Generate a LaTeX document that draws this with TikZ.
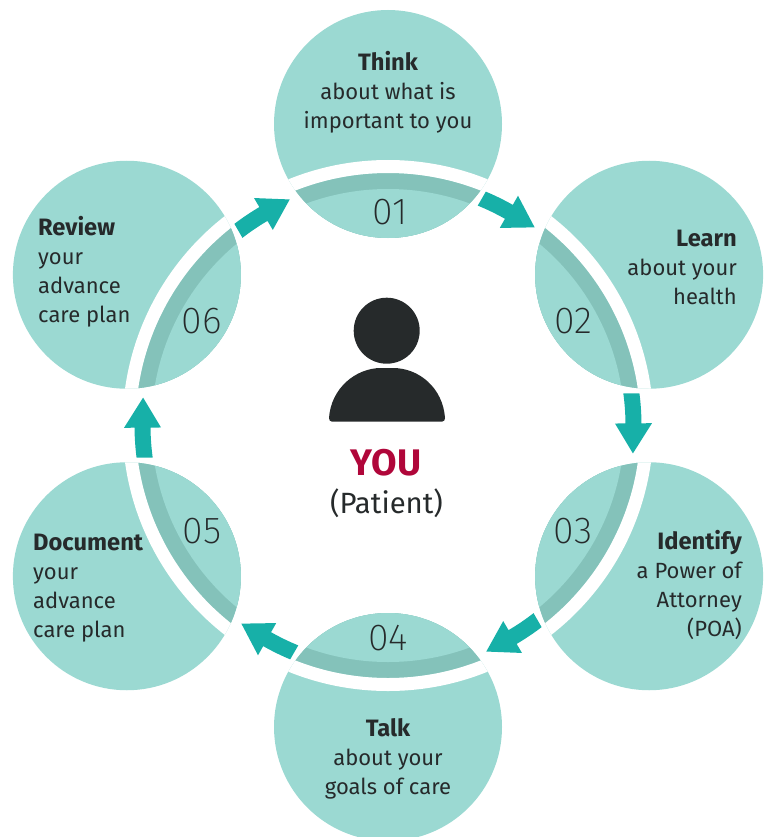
\documentclass[tikz,border=0pt]{standalone}
\usepackage{fontspec}
\usetikzlibrary{calc}
\setmainfont{Fira Sans}
\newfontfamily\numfont{Fira Sans ExtraLight}
\definecolor{lens}{HTML}{9BD9D2}
\definecolor{band}{HTML}{84C2BA}
\definecolor{arrowc}{HTML}{17B0A8}
\definecolor{ink}{HTML}{262A2B}
\definecolor{youc}{HTML}{B0063A}
\newcommand{\bt}[1]{{\bfseries\fontsize{23.7}{29}\selectfont #1}}
\tikzset{
  body/.style={font=\fontsize{22}{29}\selectfont, text=ink, inner sep=0pt},
  num/.style={font=\numfont\fontsize{37.5}{38}\selectfont, text=ink, inner sep=0pt},
}
\begin{document}
\begin{tikzpicture}[x=1pt,y=-1pt]
\useasboundingbox (0,0) rectangle (770,837);
\coordinate (c) at (388,425.5);
\foreach \a in {90,30,-30,-90,-150,150}{
  \begin{scope}
    \clip (0,0) rectangle (770,837);
    \begin{scope}
      \clip ($(c)+(\a:301.5 and -301.5)$) circle (114);
      \fill[lens] (0,0) rectangle (770,837);
      \fill[band] (c) circle (252.5);
      \fill[lens] (c) circle (236.5);
      \fill[white, even odd rule] (c) circle (265.5) (c) circle (252.5);
    \end{scope}
  \end{scope}
}
\foreach \a in {0,60,120,180,240,300}{
  \fill[arrowc] ($(c)+({67.8-\a}:237.5 and -237.5)$)
    arc[start angle={-(67.8-\a)}, end angle={-(60.5-\a)}, radius=237.5]
    -- ($(c)+({60.5-\a}:227 and -227)$)
    -- ($(c)+({53.5-\a}:246.5 and -246.5)$)
    -- ($(c)+({60.5-\a}:264 and -264)$)
    -- ($(c)+({60.5-\a}:253.5 and -253.5)$)
    arc[start angle={-(60.5-\a)}, end angle={-(67.3-\a)}, radius=253.5]
    -- cycle;
}
\node[body,align=center] (t1) at (388,92) {\bt{Think}\\about what is\\important to you};
\node[body,align=right,anchor=east] (t2) at (737,267) {\bt{Learn}\\about your\\health};
\node[body,align=right,anchor=east] (t3) at (742,585) {\bt{Identify}\\a Power of\\Attorney\\(POA)};
\node[body,align=center] (t4) at (388,759) {\bt{Talk}\\about your\\goals of care};
\node[body,align=left,anchor=west] (t5) at (33,588.5) {\bt{Document}\\your\\advance\\care plan};
\node[body,align=left,anchor=west] (t6) at (38,271.5) {\bt{Review}\\your\\advance\\care plan};
\node[num] (n1) at (390,212) {01};
\node[num] (n2) at (573,321) {02};
\node[num] (n3) at (573,531) {03};
\node[num] (n4) at (388,638) {04};
\node[num] (n5) at (202,531) {05};
\node[num] (n6) at (202,321) {06};
\fill[ink] (386.7,330.7) circle (33);
\fill[ink] (332,421.7) .. controls (330,421.7) and (329,420) .. (329,418) .. controls (331,388) and (356,368) .. (381,368) -- (393,368) .. controls (419,368) and (443,388) .. (445,418) .. controls (445,420) and (444,421.7) .. (442,421.7) -- cycle;
\node[inner sep=0pt,text=youc,font=\bfseries\fontsize{37}{37}\selectfont] (you) at (386,463) {YOU};
\node[inner sep=0pt,text=ink,font=\fontsize{29.3}{29.3}\selectfont] (pat) at (386.5,503) {(Patient)};
\end{tikzpicture}
\end{document}
